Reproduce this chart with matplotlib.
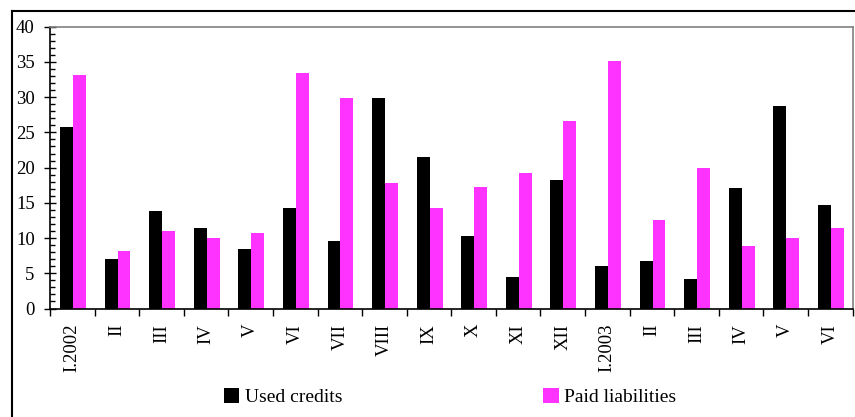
import numpy as np
import matplotlib.pyplot as plt
from matplotlib.lines import Line2D
from matplotlib.patches import Patch
from matplotlib.ticker import MultipleLocator, FixedLocator, NullFormatter, FixedFormatter

# months Jan 2002 - Jun 2003
months = ['I.2002', 'II', 'III', 'IV', 'V', 'VI', 'VII', 'VIII', 'IX', 'X', 'XI', 'XII',
          'I.2003', 'II', 'III', 'IV', 'V', 'VI']
used_credits = [25.8, 7.0, 13.8, 11.4, 8.4, 14.3, 9.6, 29.9, 21.5, 10.3, 4.5, 18.2,
                6.0, 6.7, 4.2, 17.1, 28.7, 14.7]
paid_liabilities = [33.1, 8.1, 11.0, 10.0, 10.7, 33.4, 29.9, 17.8, 14.3, 17.2, 19.2, 26.6,
                    35.1, 12.5, 19.9, 8.9, 10.0, 11.4]

BLACK = '#000000'
PINK = '#ff33ff'

plt.rcParams['font.family'] = ['Liberation Serif', 'DejaVu Serif']

fig = plt.figure(figsize=(8.55, 4.17), dpi=100)
ax = fig.add_axes([50 / 855, 1 - 308.5 / 417, 802.5 / 855, 281.8 / 417])

x = np.arange(len(months))
w = 0.29
ax.bar(x - w / 2 + 0.015, used_credits, w, color=BLACK, label='Used credits')
ax.bar(x + w / 2 + 0.015, paid_liabilities, w, color=PINK, label='Paid liabilities')

ax.set_xlim(-0.5, len(months) - 0.5)
ax.set_ylim(0, 40)

# y axis ticks
ax.yaxis.set_major_locator(MultipleLocator(5))
ax.yaxis.set_minor_locator(MultipleLocator(1))
ax.tick_params(axis='y', which='major', direction='inout', length=8, width=1,
               labelsize=13.5, pad=7)
ax.tick_params(axis='y', which='minor', direction='in', length=3.3, width=1)

# x axis: ticks between groups, labels at group centres
ax.xaxis.set_major_locator(FixedLocator(np.arange(-0.5, len(months), 1.0)))
ax.xaxis.set_major_formatter(NullFormatter())
ax.xaxis.set_minor_locator(FixedLocator(x))
ax.xaxis.set_minor_formatter(FixedFormatter(months))
ax.tick_params(axis='x', which='major', direction='out', length=5, width=1)
ax.tick_params(axis='x', which='minor', length=0, labelsize=13.5, pad=11,
               labelrotation=90)
for lab in ax.xaxis.get_minorticklabels():
    lab.set_verticalalignment('top')

for side in ['top', 'right']:
    ax.spines[side].set_color('#808080')
    ax.spines[side].set_linewidth(1.2)
for side in ['left', 'bottom']:
    ax.spines[side].set_color('black')
    ax.spines[side].set_linewidth(1.2)

# legend below the plot
handles = [Patch(facecolor=BLACK, label='Used credits'),
           Patch(facecolor=PINK, label='Paid liabilities')]
fig.legend(handles=handles, loc='center', bbox_to_anchor=(0.5265, 0.048), ncol=2,
           frameon=False, fontsize=14, handlelength=0.8, handleheight=0.85,
           handletextpad=0.3, columnspacing=10.3)

# outer frame (partially visible)
fig.add_artist(Line2D([12 / 855, 12 / 855], [0, 1 - 10.5 / 417], color='black',
                      lw=1.5, transform=fig.transFigure))
fig.add_artist(Line2D([12 / 855, 1], [1 - 10.5 / 417, 1 - 10.5 / 417], color='black',
                      lw=1.5, transform=fig.transFigure))

fig.savefig('out.png', dpi=100)
